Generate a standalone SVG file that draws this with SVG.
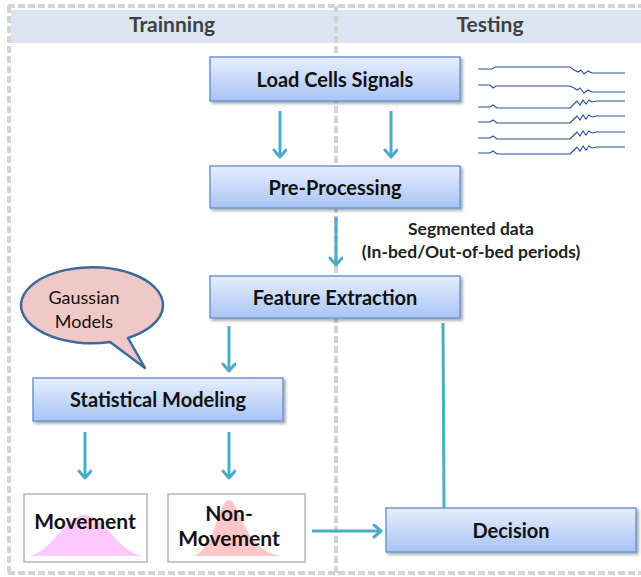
<svg xmlns="http://www.w3.org/2000/svg" width="641" height="577" viewBox="0 0 641 577">
<defs>
<linearGradient id="boxg" x1="0" y1="0" x2="0" y2="1">
<stop offset="0" stop-color="#e6eefc"/>
<stop offset="1" stop-color="#a9c4f5"/>
</linearGradient>
<filter id="sh" x="-10%" y="-20%" width="130%" height="160%">
<feDropShadow dx="2" dy="2" stdDeviation="1.5" flood-color="#000" flood-opacity="0.35"/>
</filter>
<marker id="ah" markerUnits="userSpaceOnUse" markerWidth="16" markerHeight="16" refX="9" refY="7" orient="auto">
<path d="M2,1 L9,7 L2,13" fill="none" stroke="#4bacc6" stroke-width="3" stroke-linecap="round" stroke-linejoin="round"/>
</marker>
</defs>
<style>
.dash{stroke:#d4d4d4;stroke-width:4;stroke-dasharray:7 3;fill:none}
.box{fill:url(#boxg);stroke:#6e96d4;stroke-width:1.5;filter:url(#sh)}
.wbox{fill:#fff;stroke:#c8c8c8;stroke-width:2}
.t{font-family:Lato,"Liberation Sans",sans-serif;font-weight:bold;font-size:20px;fill:#111;text-anchor:middle}
.m{font-size:21px}
.h{font-family:Lato,"Liberation Sans",sans-serif;font-weight:bold;font-size:21px;fill:#404040;text-anchor:middle}
.s{font-family:Lato,"Liberation Sans",sans-serif;font-weight:bold;font-size:17.5px;fill:#222;text-anchor:middle}
.g{font-family:Lato,"Liberation Sans",sans-serif;font-weight:normal;font-size:18px;fill:#111;text-anchor:middle}
.arr{stroke:#4bacc6;stroke-width:3;fill:none;marker-end:url(#ah)}
.ln{stroke:#4bacc6;stroke-width:3;fill:none}
.sig{stroke:#2e4c9c;stroke-width:1.1;fill:none}
</style>
<rect width="641" height="577" fill="#fff"/>
<g id="frame">
<rect x="11" y="10" width="630" height="33" fill="#dce6f2"/>
<line class="dash" x1="8" y1="6" x2="641" y2="6"/>
<line class="dash" x1="9" y1="6" x2="9" y2="573"/>
<line class="dash" x1="8" y1="573" x2="641" y2="573"/>
<line class="dash" x1="336" y1="6" x2="336" y2="573"/>
<text class="h" x="172" y="32">Trainning</text>
<text class="h" x="490" y="32">Testing</text>
</g>
<g id="signals">
<path class="sig" d="M478,69 L492,69 L495,67 L570,67 L574,70 L578,72 L581,70 L584,74 L588,71 L592,73 L597,73 L625,73"/>
<path class="sig" d="M478,85 L490,85 L493,88 L496,86 L570,86 L574,88 L577,90 L580,88 L584,93 L588,90 L592,92 L597,92 L625,92"/>
<path class="sig" d="M478,107 L490,107 L493,105 L497,108 L570,108 L574,104 L577,101 L580,105 L583,100 L586,104 L589,100 L592,102 L597,101 L625,101"/>
<path class="sig" d="M478,122 L490,122 L493,120 L497,123 L570,123 L574,119 L577,116 L580,120 L583,115 L586,119 L589,115 L592,117 L597,116 L625,116"/>
<path class="sig" d="M478,138 L490,138 L493,136 L497,139 L570,139 L574,135 L577,132 L580,136 L583,131 L586,135 L589,131 L592,133 L597,132 L625,132"/>
<path class="sig" d="M478,153 L490,153 L493,151 L497,154 L570,154 L574,150 L577,147 L580,151 L583,146 L586,150 L589,146 L592,148 L597,147 L625,147"/>
</g>
<g id="connectors">
<line class="arr" x1="280" y1="111" x2="280" y2="157"/>
<line class="arr" x1="391" y1="111" x2="391" y2="157"/>
<line class="arr" x1="336" y1="217" x2="336" y2="265"/>
<line class="arr" x1="229" y1="326" x2="229" y2="371"/>
<line class="arr" x1="85" y1="432" x2="85" y2="478"/>
<line class="arr" x1="229" y1="432" x2="229" y2="478"/>
<line class="arr" x1="312" y1="531" x2="381" y2="531"/>
<line class="ln" x1="443" y1="323" x2="444" y2="508"/>
</g>
<g id="load">
<rect class="box" x="210" y="57" width="250" height="44"/>
<text class="t" x="335" y="87">Load Cells Signals</text>
</g>
<g id="preproc">
<rect class="box" x="210" y="166" width="250" height="42"/>
<text class="t" x="335" y="195">Pre-Processing</text>
</g>
<g id="seglabel">
<text class="s" x="471" y="235">Segmented data</text>
<text class="s" x="471" y="258">(In-bed/Out-of-bed periods)</text>
</g>
<g id="feature">
<rect class="box" x="210" y="276" width="250" height="42"/>
<text class="t" x="335" y="305">Feature Extraction</text>
</g>
<g id="bubble">
<path d="M110,342 A71,38 0 1 1 128,338 L145,368 Z" fill="#f0c8c8" stroke="#3e6a99" stroke-width="2.5" stroke-linejoin="round"/>
<text class="g" x="84" y="304">Gaussian</text>
<text class="g" x="84" y="328">Models</text>
</g>
<g id="statmodel">
<rect class="box" x="33" y="378" width="250" height="43"/>
<text class="t" x="158" y="407">Statistical Modeling</text>
</g>
<g id="movement">
<rect class="wbox" x="24" y="494" width="123" height="68"/>
<path d="M29,556 C55,550 65,515 85,515 C105,515 115,550 142,556 Z" fill="#fdc9fc"/>
<text class="t m" x="85" y="529">Movement</text>
</g>
<g id="nonmovement">
<rect class="wbox" x="168" y="494" width="137" height="68"/>
<path d="M192,556 C215,552 218,500 229,500 C240,500 243,552 282,556 Z" fill="#ffc7c7"/>
<text class="t m" x="229" y="521">Non-</text>
<text class="t m" x="229" y="546">Movement</text>
</g>
<g id="decision">
<rect class="box" x="386" y="508" width="250" height="44"/>
<text class="t" x="511" y="538">Decision</text>
</g>
</svg>
